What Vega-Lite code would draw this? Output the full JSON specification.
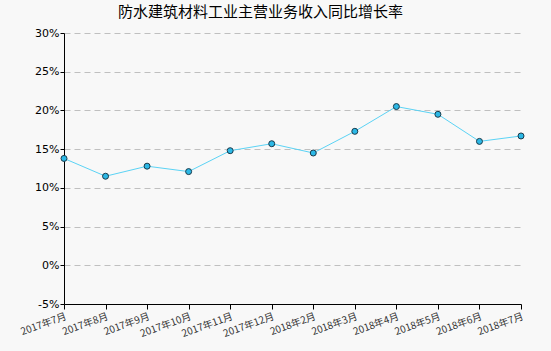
{
  "$schema": "https://vega.github.io/schema/vega-lite/v6.json",
  "autosize": "none",
  "width": 457,
  "height": 271,
  "padding": {"left": 64, "top": 33, "right": 30, "bottom": 47},
  "background": "#f8f8f8",
  "title": {"text": "防水建筑材料工业主营业务收入同比增长率", "fontSize": 15, "font": "Noto Sans CJK SC", "fontWeight": "normal", "color": "#000000", "anchor": "middle", "dx": -32, "offset": 7},
  "config": {"view": {"stroke": null}},
  "data": {"values": [
    {"m": "2017年7月", "v": 13.8},
    {"m": "2017年8月", "v": 11.5},
    {"m": "2017年9月", "v": 12.8},
    {"m": "2017年10月", "v": 12.1},
    {"m": "2017年11月", "v": 14.8},
    {"m": "2017年12月", "v": 15.7},
    {"m": "2018年2月", "v": 14.5},
    {"m": "2018年3月", "v": 17.3},
    {"m": "2018年4月", "v": 20.5},
    {"m": "2018年5月", "v": 19.5},
    {"m": "2018年6月", "v": 16.0},
    {"m": "2018年7月", "v": 16.7}
  ]},
  "encoding": {
    "x": {"field": "m", "type": "ordinal", "sort": null, "scale": {"type": "point", "padding": 0},
      "axis": {"title": null, "labelAngle": -20, "labelAlign": "right", "labelBaseline": "top", "labelFontSize": 10, "labelFont": "Noto Sans CJK SC", "labelColor": "#333333", "domainColor": "#000000", "tickColor": "#000000", "tickSize": 5, "labelPadding": 2, "grid": false}},
    "y": {"field": "v", "type": "quantitative", "scale": {"domain": [-5, 30], "nice": false},
      "axis": {"title": null, "values": [-5, 0, 5, 10, 15, 20, 25, 30], "labelExpr": "datum.value + '%'", "labelFontSize": 11, "labelFont": "DejaVu Sans", "labelColor": "#000000", "domainColor": "#000000", "tickColor": "#000000", "tickSize": 4, "labelPadding": 1, "grid": true, "gridColor": "#c0c0c0", "gridDash": [6, 4]}}
  },
  "layer": [
    {"mark": {"type": "line", "color": "#5bd3f5", "strokeWidth": 1}},
    {"mark": {"type": "point", "filled": true, "fill": "#2bb8e6", "stroke": "#1a3a4a", "strokeWidth": 1, "size": 36, "opacity": 1}}
  ]
}
